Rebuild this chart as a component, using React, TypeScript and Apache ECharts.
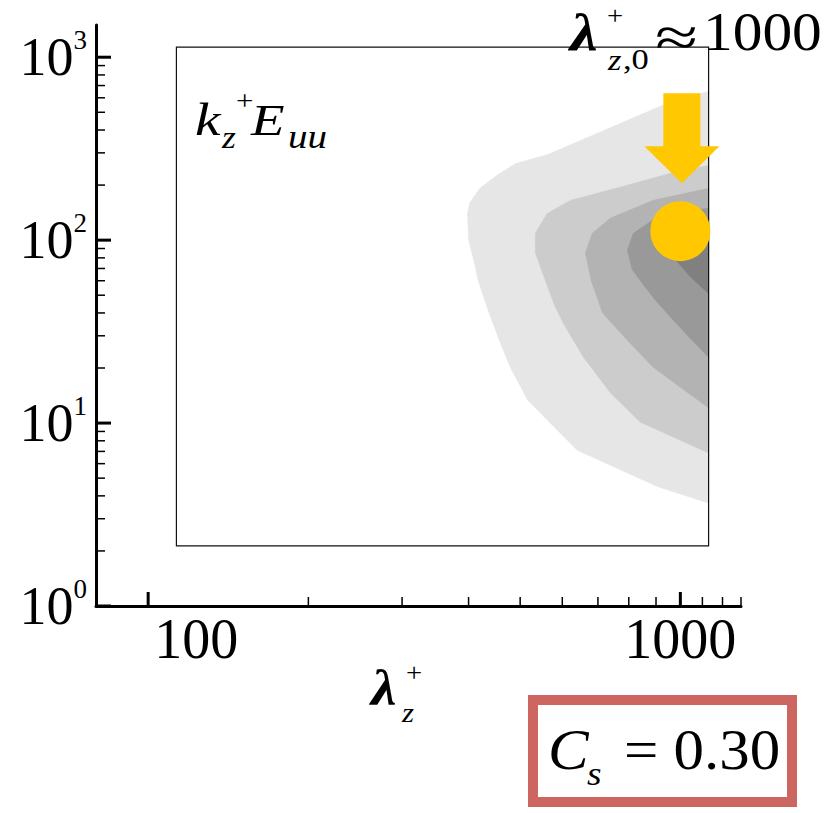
import React, { useEffect, useRef } from 'react';
import * as echarts from 'echarts';

// ---- axis ranges & ticks ----
const X_MIN = 79.8;
const X_MAX = 1300;
const Y_MIN = 1;
const Y_MAX = 1500;
const xMajorTicks = [100, 1000];
const xMinorTicks = [200, 300, 400, 500, 600, 700, 800, 900, 1100, 1200, 1300];
const yMajorTicks = [1, 10, 100, 1000];
const yMinorTicks = [2, 3, 4, 5, 6, 7, 8, 9, 20, 30, 40, 50, 60, 70, 80, 90, 200, 300, 400, 500, 600, 700, 800, 900];

// ---- inner frame (data domain of the contour plot) ----
const frameX = [113, 1130];
const frameY = [2.13, 1135];

// ---- filled contour levels of k_z^+ E_uu (outer -> inner) ----
const level1 = [[1130, 652], [945, 560], [565, 295], [490, 262], [452, 226], [420, 192], [402, 160], [398, 140], [400, 100], [412, 71], [417, 60], [437, 40], [459, 27.4], [479, 20.2], [516, 13.4], [562, 10.4], [640, 7.1], [905, 4.5], [1130, 3.65]];
const level2 = [[1130, 257], [958, 232], [772, 195], [622, 165], [562, 140], [534, 109], [534, 85], [558, 60], [580, 44], [603, 35], [657, 23], [739, 14.6], [841, 10.1], [1130, 6.86]];
const level3 = [[1130, 192], [889, 165], [739, 132], [683, 109], [663, 85], [680, 60], [714, 40], [795, 28.4], [889, 20.2], [1000, 15.7], [1130, 12.1]];
const level4 = [[1130, 150], [905, 134], [816, 109], [795, 88], [812, 69], [852, 57], [897, 47], [958, 38], [1044, 29], [1130, 22.9]];
const level5 = [[1130, 125], [1000, 116], [958, 94], [987, 76], [1044, 63], [1130, 51]];
const levels = [level1, level2, level3, level4, level5];
const levelColors = ['#e6e6e6', '#cccccc', '#b3b3b3', '#999999', '#808080'];

// ---- marker: lambda_z,0 ~ 1000 ----
const markerX = [1000];
const markerY = [112];

const SERIF = '"Liberation Serif", "Times New Roman", serif';

function isDecade(v: number) {
  const l = Math.log10(v);
  return Math.abs(l - Math.round(l)) < 1e-6;
}

function txt(text: string, x: number, baseline: number, size: number, style: string, sx = 1) {
  return {
    type: 'text',
    x,
    y: baseline - 0.3375 * size,
    scaleX: sx,
    z: 100,
    silent: true,
    style: {
      text,
      font: `${style} ${size}px ${SERIF}`,
      fill: '#000',
      textAlign: 'left',
      textVerticalAlign: 'middle',
      align: 'left',
      verticalAlign: 'middle',
    },
  };
}

function polygonSeries(pts: number[][], color: string, z: number) {
  return {
    type: 'custom',
    coordinateSystem: 'cartesian2d',
    silent: true,
    z,
    data: pts,
    renderItem: (params: any, api: any) => {
      if (params.dataIndexInside !== 0) return null;
      const points: number[][] = [];
      for (let i = 0; i < params.dataInsideLength; i++) {
        points.push(api.coord([api.value(0, i), api.value(1, i)]));
      }
      return { type: 'polygon', shape: { points }, style: { fill: color, stroke: color, lineWidth: 0.5 } };
    },
  };
}

function tickSeries(vals: number[], horizontal: boolean, len: number, width: number) {
  return {
    type: 'custom',
    coordinateSystem: 'cartesian2d',
    silent: true,
    z: 6,
    data: vals.map((v) => (horizontal ? [v, Y_MIN] : [X_MIN, v])),
    renderItem: (params: any, api: any) => {
      const p = api.coord([api.value(0), api.value(1)]);
      return {
        type: 'line',
        shape: horizontal
          ? { x1: p[0], y1: p[1], x2: p[0], y2: p[1] - len }
          : { x1: p[0], y1: p[1], x2: p[0] + len, y2: p[1] },
        style: { stroke: '#000', lineWidth: width },
      };
    },
  };
}

export default function App() {
  const ref = useRef<HTMLDivElement>(null);
  useEffect(() => {
    if (!ref.current) return;
    const chart = echarts.init(ref.current, undefined, { renderer: 'svg' });
    const series: any[] = [];
    levels.forEach((lv, i) => series.push(polygonSeries(lv, levelColors[i], 1 + i * 0.1)));
    series.push({
      type: 'custom',
      coordinateSystem: 'cartesian2d',
      silent: true,
      z: 3,
      data: [[frameX[0], frameY[0], frameX[1], frameY[1]]],
      renderItem: (params: any, api: any) => {
        const a = api.coord([api.value(0), api.value(1)]);
        const b = api.coord([api.value(2), api.value(3)]);
        return {
          type: 'rect',
          shape: { x: a[0], y: b[1], width: b[0] - a[0], height: a[1] - b[1] },
          style: { fill: 'none', stroke: '#111', lineWidth: 1.2 },
        };
      },
    });
    series.push(tickSeries(xMajorTicks, true, 14, 3));
    series.push(tickSeries(xMinorTicks, true, 9, 1.5));
    series.push(tickSeries(yMajorTicks, false, 15, 3));
    series.push(tickSeries(yMinorTicks, false, 9, 1.5));
    // arrow pointing at the marker
    series.push({
      type: 'custom',
      coordinateSystem: 'cartesian2d',
      silent: true,
      z: 8,
      data: markerX.map((x, i) => [x, markerY[i]]),
      renderItem: (params: any, api: any) => {
        const c = api.coord([api.value(0), api.value(1)]);
        const cx = c[0] + 1.5;
        const cy = c[1];
        return {
          type: 'polygon',
          shape: {
            points: [
              [cx - 18.5, cy - 138],
              [cx + 18.5, cy - 138],
              [cx + 18.5, cy - 85],
              [cx + 37.5, cy - 85],
              [cx, cy - 48],
              [cx - 37.5, cy - 85],
              [cx - 18.5, cy - 85],
            ],
          },
          style: { fill: '#FFC800' },
        };
      },
    });
    series.push({
      type: 'scatter',
      silent: true,
      z: 9,
      symbol: 'circle',
      symbolSize: 60,
      itemStyle: { color: '#FFC800', opacity: 1 },
      data: markerX.map((x, i) => [x, markerY[i]]),
    });

    const option: any = {
      animation: false,
      grid: { left: 96, top: 25, width: 645, height: 581, containLabel: false },
      xAxis: {
        type: 'log',
        logBase: 10,
        min: X_MIN,
        max: X_MAX,
        axisLine: { show: true, onZero: false, lineStyle: { color: '#000', width: 3 } },
        axisTick: { show: false },
        minorTick: { show: false },
        splitLine: { show: false },
        minorSplitLine: { show: false },
        axisLabel: {
          interval: 0,
          hideOverlap: false,
          formatter: (v: number) => {
            if (!isDecade(v)) return '';
            return Math.round(v) === 100 ? `{s|${Math.round(v)}}` : `{n|${Math.round(v)}}`;
          },
          margin: 5,
          rich: {
            n: { fontFamily: SERIF, fontSize: 56, color: '#000' },
            s: { fontFamily: SERIF, fontSize: 56, color: '#000', padding: [0, 0, 0, 96] },
          },
        },
      },
      yAxis: {
        type: 'log',
        logBase: 10,
        min: Y_MIN,
        max: Y_MAX,
        axisLine: { show: true, onZero: false, lineStyle: { color: '#000', width: 3 } },
        axisTick: { show: false },
        minorTick: { show: false },
        splitLine: { show: false },
        minorSplitLine: { show: false },
        axisLabel: {
          interval: 0,
          hideOverlap: false,
          showMaxLabel: false,
          formatter: (v: number) => (isDecade(v) ? `{a|10}{b|${Math.round(Math.log10(v))}}` : ''),
          margin: 9,
          rich: {
            a: { fontFamily: SERIF, fontSize: 54, color: '#000' },
            b: { fontFamily: SERIF, fontSize: 27, color: '#000', padding: [0, 0, 34, 0] },
          },
        },
      },
      graphic: [
        // k_z^+ E_uu
        txt('k', 195, 135, 46, 'italic', 1.25),
        txt('z', 222, 148, 31, 'italic', 1.15),
        txt('+', 236, 110, 28, 'normal', 1.1),
        txt('E', 251, 135, 44, 'italic', 1.25),
        txt('uu', 288, 148, 34, 'italic', 1.15),
        // x-axis title lambda_z^+
        txt('λ', 371, 705, 50, 'italic bold', 1.15),
        txt('+', 406, 681, 26, 'normal', 1.1),
        txt('z', 402, 722, 28, 'italic', 1.1),
        // lambda_z,0^+ ~ 1000
        txt('λ', 570, 50, 52, 'italic bold', 1.2),
        txt('+', 607, 24, 26, 'normal', 1.1),
        txt('z', 608, 70, 30, 'italic', 1.15),
        txt(',0', 623, 69, 30, 'normal', 1.15),
        txt('≈', 655, 56, 56, 'normal', 1.4),
        txt('1000', 703, 50, 54, 'normal', 1.1),
        // C_s box
        {
          type: 'rect',
          z: 90,
          silent: true,
          shape: { x: 533, y: 700, width: 259, height: 102 },
          style: { fill: '#fff', stroke: '#CD6660', lineWidth: 10 },
        },
        txt('C', 548, 769, 58, 'italic', 1.05),
        txt('s', 587, 785, 34, 'italic', 1.1),
        txt('= 0.30', 624, 769, 58, 'normal', 1.05),
      ],
      series,
    };
    chart.setOption(option);
    return () => chart.dispose();
  }, []);
  return <div ref={ref} style={{ position: 'absolute', left: 0, top: 0, width: 838, height: 813 }} />;
}
